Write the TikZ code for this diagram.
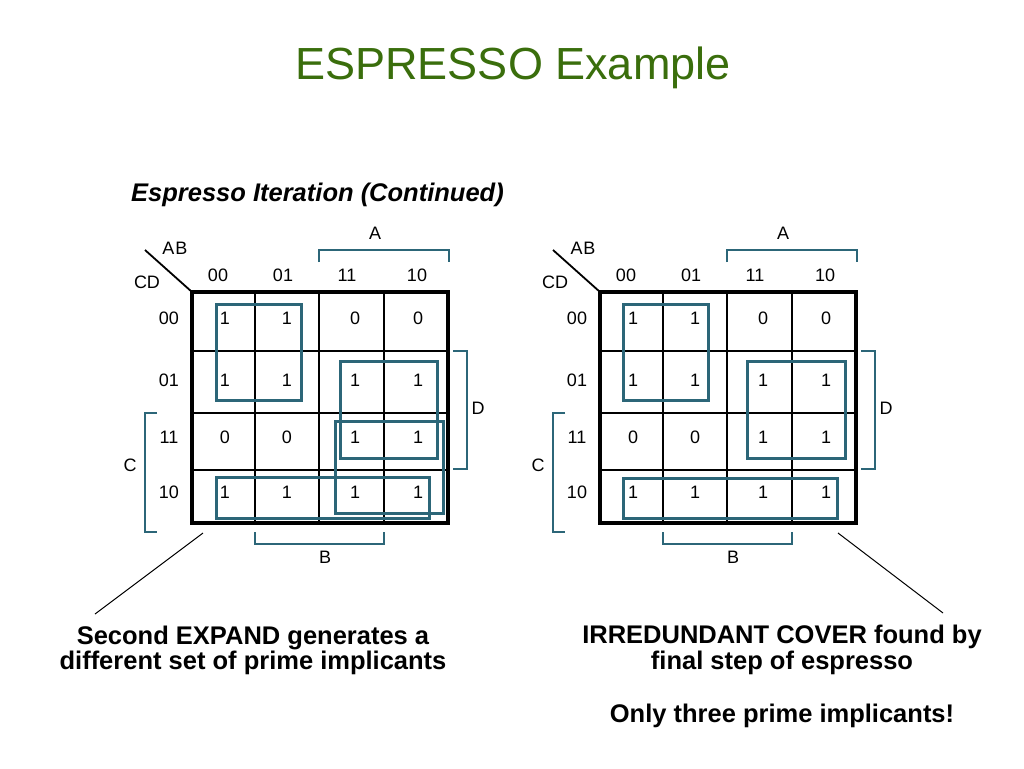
\documentclass[tikz,border=0pt]{standalone}
\usepackage{fontspec}
\setmainfont{Liberation Sans}
\definecolor{kteal}{RGB}{44,102,120}
\definecolor{titlegreen}{RGB}{58,110,12}
\begin{document}
\begin{tikzpicture}[x=1pt,y=-1pt,
  gridline/.style={line width=2.5pt,black},
  gridouter/.style={line width=3.5pt,black},
  implicant/.style={line width=3pt,kteal},
  bracketline/.style={line width=2.5pt,kteal},
  maplbl/.style={font=\fontsize{18}{20}\selectfont,inner sep=0pt},
  celltxt/.style={font=\fontsize{18}{20}\selectfont,inner sep=0pt},
  bodytxt/.style={font=\fontsize{25.5}{28}\selectfont\bfseries,anchor=base,inner sep=0pt},
  leader/.style={line width=1pt,black}]
\useasboundingbox (0,0) rectangle (1024,768);
\fill[white] (0,0) rectangle (1024,768);

\node[anchor=base,inner sep=0pt,text=titlegreen,font=\fontsize{45}{50}\selectfont] (title) at (513,79) {ESPRESSO Example};
\node[anchor=base west,inner sep=0pt,font=\fontsize{25.5}{28}\selectfont\bfseries\itshape] (subtitle) at (131,201) {Espresso Iteration (Continued)};

\foreach \m/\o in {L/0,R/408} {
\begin{scope}[xshift=\o pt]
  % grid
  \foreach \gx in {255,319,384} \draw[gridline] (\gx,292) -- (\gx,523);
  \foreach \gy in {351,413,470} \draw[gridline] (192,\gy) -- (448,\gy);
  \draw[gridouter] (192,292) rectangle (448,523);
  \draw[leader,line width=1.8pt] (145,250) -- (192,292);
  % headers
  \node[maplbl] (\m ab) at (175,248) {A\kern1pt B};
  \node[maplbl] (\m cd) at (147,282) {CD};
  \foreach \t/\hx [count=\i] in {00/218,01/283,11/347,10/417}
    \node[maplbl] (\m col\i) at (\hx,275) {\t};
  \foreach \t/\hy [count=\i] in {00/318,01/380,11/437,10/492}
    \node[maplbl] (\m row\i) at (169,\hy) {\t};
  % cell values
  \foreach \hy/\va/\vb/\vc/\vd [count=\r] in {318/1/1/0/0,380/1/1/1/1,437/0/0/1/1,492/1/1/1/1} {
    \node[celltxt] (\m v\r a) at (225,\hy) {\va};
    \node[celltxt] (\m v\r b) at (287,\hy) {\vb};
    \node[celltxt] (\m v\r c) at (355,\hy) {\vc};
    \node[celltxt] (\m v\r d) at (418,\hy) {\vd};
  }
  % brackets
  \draw[bracketline] (319,262) -- (319,250) -- (449,250) -- (449,262);
  \node[maplbl] (\m A) at (375,233) {A};
  \draw[bracketline] (157,413) -- (145,413) -- (145,532) -- (157,532);
  \node[maplbl] (\m C) at (130,465) {C};
  \draw[bracketline] (453,351) -- (467,351) -- (467,469) -- (453,469);
  \node[maplbl] (\m D) at (478,408) {D};
  \draw[bracketline] (255,532) -- (255,544) -- (384,544) -- (384,532);
  \node[maplbl] (\m B) at (325,557) {B};
\end{scope}
}

% implicants, left map
\draw[implicant] (216,304) rectangle (301,400);
\draw[implicant] (340,361) rectangle (437,458);
\draw[implicant] (335,421) rectangle (443,513);
\draw[implicant] (216,477) rectangle (429,518);
% implicants, right map
\draw[implicant] (623,304) rectangle (708,400);
\draw[implicant] (747,361) rectangle (845,458);
\draw[implicant] (623,478) rectangle (837,518);

% texts
\node[bodytxt] (lt1) at (253,644) {Second EXPAND generates a};
\node[bodytxt] (lt2) at (253,669) {different set of prime implicants};
\node[bodytxt] (rt1) at (782,643) {IRREDUNDANT COVER found by};
\node[bodytxt] (rt2) at (782,669) {final step of espresso};
\node[bodytxt] (rt3) at (782,722) {Only three prime implicants!};

% leaders
\coordinate (lmap) at (203,533);
\coordinate (ltxt) at (95,614);
\draw[leader] (lmap) -- (ltxt);
\coordinate (rmap) at (838,533);
\coordinate (rtxt) at (943,613);
\draw[leader] (rmap) -- (rtxt);
\end{tikzpicture}
\end{document}
